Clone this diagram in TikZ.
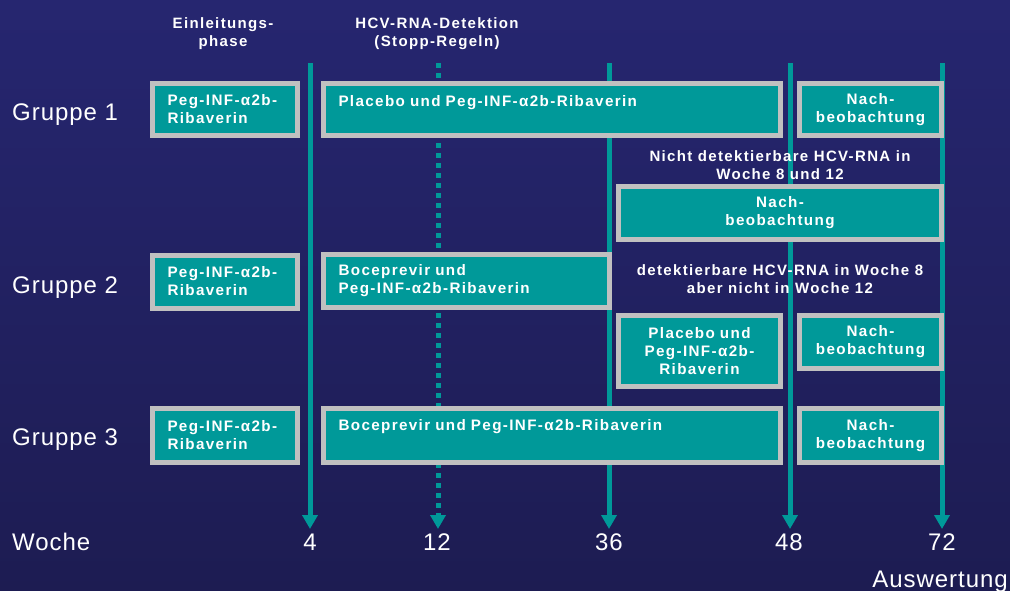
\documentclass[tikz,border=0pt]{standalone}
\usepackage{fontspec}
\setmainfont{Liberation Sans}
\newfontfamily\boxfont[LetterSpace=9]{Liberation Sans}
\newfontfamily\labelfont[LetterSpace=4]{Liberation Sans}
\usetikzlibrary{arrows.meta}
\definecolor{colorBgTop}{RGB}{38, 38, 112}
\definecolor{colorBgMid}{RGB}{53, 52, 154}
\definecolor{colorBgBottom}{RGB}{29, 28, 82}
\definecolor{colorBox}{RGB}{0, 153, 153}
\definecolor{colorFrame}{RGB}{192, 192, 192}
\definecolor{colorWeek}{RGB}{0, 153, 153}
\tikzstyle{phase} = [rectangle, draw=colorFrame, line width=5pt, fill=colorBox, text=white, inner xsep=15pt, inner ysep=0pt, font=\boxfont\bfseries\fontsize{15.2}{18}\selectfont]
\tikzstyle{head} = [text=white, align=center, inner sep=0pt, font=\boxfont\bfseries\fontsize{15}{18}\selectfont]
\tikzstyle{group} = [text=white, anchor=base west, inner sep=0pt, font=\labelfont\fontsize{24}{28}\selectfont]
\tikzstyle{week} = [text=white, anchor=base, inner sep=0pt, font=\labelfont\fontsize{24}{28}\selectfont]
\tikzstyle{arrow} = [line width=5pt, draw=colorWeek, -{Triangle[width=15pt, length=14pt]}]
\tikzstyle{dottedarrow} = [arrow, dash pattern=on 5pt off 5pt]

\begin{document}
\begin{tikzpicture}[x=1pt, y=-1pt]

	% background
	\useasboundingbox (0,0) rectangle (1010,590);
	\shade[top color=colorBgTop, middle color=colorBgMid, bottom color=colorBgBottom] (0,0) rectangle (1010,590);

	% headings
	\node (hIntro)[head] at (223,34) {Einleitungs-\\phase};
	\node (hDetect)[head] at (437,34) {HCV-RNA-Detektion\\(Stopp-Regeln)};

	% week lines
	\coordinate (topFour) at (310,63);
	\coordinate (endFour) at (310,529);
	\coordinate (topTwelve) at (438,63);
	\coordinate (endTwelve) at (438,529);
	\coordinate (topThirtySix) at (609,63);
	\coordinate (endThirtySix) at (609,529);
	\coordinate (topFortyEight) at (790,63);
	\coordinate (endFortyEight) at (790,529);
	\coordinate (topSeventyTwo) at (942,63);
	\coordinate (endSeventyTwo) at (942,529);

	\draw[arrow](topFour) -- (endFour);
	\draw[dottedarrow](topTwelve) -- (endTwelve);
	\draw[arrow](topThirtySix) -- (endThirtySix);
	\draw[arrow](topFortyEight) -- (endFortyEight);
	\draw[arrow](topSeventyTwo) -- (endSeventyTwo);

	% group 1
	\node (gOne)[group] at (12,120.5) {Gruppe 1};
	\node (gOneIntro)[phase, minimum width=145, minimum height=52, text width=115, align=left] at (225,109.5) {Peg-INF-α2b-\\Ribaverin};
	\node (gOnePlacebo)[phase, text width=427, text height=22.5, text depth=29.5, align=left] at (552,109.5) {Placebo und Peg-INF-α2b-Ribaverin};
	\node (gOneFollow)[phase, minimum width=142, minimum height=52, text width=112, align=center] at (870.5,109.5) {Nach-\\beobachtung};

	% group 2
	\node (noteUndetect)[head] at (780,165) {Nicht detektierbare HCV-RNA in\\Woche 8 und 12};
	\node (gTwoFollowLong)[phase, minimum width=323, minimum height=53, text width=293, align=center] at (780,213) {Nach-\\beobachtung};
	\node (gTwo)[group] at (12,293.5) {Gruppe 2};
	\node (gTwoIntro)[phase, minimum width=145, minimum height=53, text width=115, align=left] at (225,281.5) {Peg-INF-α2b-\\Ribaverin};
	\node (gTwoBoce)[phase, minimum width=286, minimum height=53, text width=256, align=left] at (466.5,281) {Boceprevir und\\Peg-INF-α2b-Ribaverin};
	\node (noteDetect)[head] at (780,279.5) {detektierbare HCV-RNA in Woche 8\\aber nicht in Woche 12};
	\node (gTwoPlacebo)[phase, minimum width=162, minimum height=71, text width=132, align=center] at (699.5,351) {Placebo und\\Peg-INF-α2b-\\Ribaverin};
	\node (gTwoFollow)[phase, minimum width=142, minimum height=53, text width=112, align=center] at (870.5,342) {Nach-\\beobachtung};

	% group 3
	\node (gThree)[group] at (12,445) {Gruppe 3};
	\node (gThreeIntro)[phase, minimum width=145, minimum height=54, text width=115, align=left] at (225,435.5) {Peg-INF-α2b-\\Ribaverin};
	\node (gThreeBoce)[phase, text width=427, text height=21.5, text depth=32.5, align=left] at (552,435.5) {Boceprevir und Peg-INF-α2b-Ribaverin};
	\node (gThreeFollow)[phase, minimum width=142, minimum height=54, text width=112, align=center] at (870.5,435.5) {Nach-\\beobachtung};

	% weeks
	\node (wLabel)[group] at (12,550) {Woche};
	\node (wFour)[week] at (310,550) {4};
	\node (wTwelve)[week] at (437,550) {12};
	\node (wThirtySix)[week] at (609,550) {36};
	\node (wFortyEight)[week] at (789,550) {48};
	\node (wSeventyTwo)[week] at (942,550) {72};
	\node (wEval)[group, anchor=base east] at (1008,587) {Auswertung};

\end{tikzpicture}
\end{document}
